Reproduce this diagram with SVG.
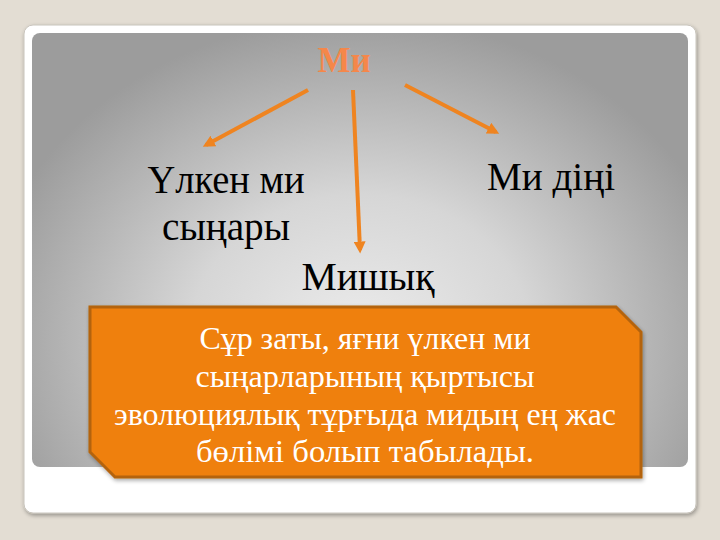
<svg xmlns="http://www.w3.org/2000/svg" width="720" height="540" viewBox="0 0 720 540">
<style>
.lbl{font-family:"Liberation Serif","Times New Roman",serif;fill:#000;font-size:39px;text-anchor:middle}
.box{font-family:"Liberation Serif","Times New Roman",serif;fill:#fff;font-size:31px;text-anchor:middle}
.arr{stroke:#ef8420;stroke-width:4;fill:none;marker-end:url(#ah)}
</style>
<defs>
<radialGradient id="pg" cx="360" cy="340" r="380" gradientUnits="userSpaceOnUse" gradientTransform="translate(360 340) scale(1 0.85) translate(-360 -340)">
<stop offset="0" stop-color="#ececec"/>
<stop offset="0.45" stop-color="#d6d6d6"/>
<stop offset="1" stop-color="#9c9c9c"/>
</radialGradient>
<marker id="ah" viewBox="0 0 10 10" refX="7" refY="5" markerWidth="3" markerHeight="3" orient="auto" markerUnits="strokeWidth">
<path d="M0 0 L10 5 L0 10 z" fill="#ef8420"/>
</marker>
<filter id="sh" x="-5%" y="-5%" width="110%" height="115%">
<feGaussianBlur in="SourceAlpha" stdDeviation="2"/>
<feOffset dx="1" dy="2"/>
<feComponentTransfer><feFuncA type="linear" slope="0.35"/></feComponentTransfer>
<feMerge><feMergeNode/><feMergeNode in="SourceGraphic"/></feMerge>
</filter>
</defs>
<rect width="720" height="540" fill="#e3ddd3"/>
<rect x="24" y="25" width="672" height="488" rx="9" fill="#ffffff" stroke="#c8c4bc" stroke-width="1" filter="url(#sh)"/>
<rect x="32" y="33" width="656" height="434" rx="8" fill="url(#pg)"/>
<g id="root"><text x="344" y="72" style="font-family:'Liberation Serif',serif;font-weight:bold;font-size:35px;fill:#f5874a;text-anchor:middle">Ми</text></g>
<g id="connectors">
<line class="arr" x1="308" y1="90" x2="206" y2="145"/>
<line class="arr" x1="353" y1="90" x2="360" y2="250"/>
<line class="arr" x1="405" y1="85" x2="496" y2="132"/>
</g>
<g id="n-ulken"><text class="lbl" x="226" y="193" textLength="157" lengthAdjust="spacingAndGlyphs">Үлкен ми</text><text class="lbl" x="226" y="240" textLength="128" lengthAdjust="spacingAndGlyphs">сыңары</text></g>
<g id="n-midini"><text class="lbl" x="551" y="190" textLength="128" lengthAdjust="spacingAndGlyphs">Ми діңі</text></g>
<g id="n-mishyk"><text class="lbl" x="368" y="290" textLength="133" lengthAdjust="spacingAndGlyphs">Мишық</text></g>
<g id="n-note">
<polygon points="90,307 616,307 641,332 641,477 115,477 90,452" fill="#ef800e" stroke="#b4630d" stroke-width="3" filter="url(#sh)"/>
<text class="box" x="365" y="349" textLength="331" lengthAdjust="spacingAndGlyphs">Сұр заты, яғни үлкен ми</text>
<text class="box" x="365" y="387" textLength="339" lengthAdjust="spacingAndGlyphs">сыңарларының қыртысы</text>
<text class="box" x="365" y="425" textLength="502" lengthAdjust="spacingAndGlyphs">эволюциялық тұрғыда мидың ең жас</text>
<text class="box" x="365" y="462" textLength="338" lengthAdjust="spacingAndGlyphs">бөлімі болып табылады.</text>
</g>
</svg>
